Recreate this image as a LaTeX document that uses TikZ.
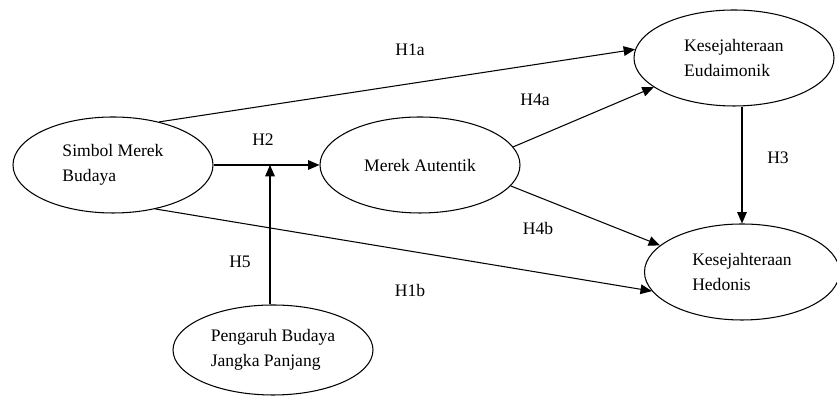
\documentclass[tikz,border=0pt]{standalone}
\usepackage{fontspec}
\setmainfont{Liberation Serif}
\usetikzlibrary{shapes.geometric,arrows.meta,calc}

\tikzset{
	konstruk/.style={draw,ellipse,line width=0.6pt,minimum width=4cm,minimum height=1.92cm,
		inner sep=0pt,align=left,font=\fontsize{10}{14}\selectfont},
	hlabel/.style={font=\fontsize{10}{12}\selectfont}
}

\begin{document}
\begin{tikzpicture}[>={Triangle[length=6.5pt,width=5.5pt]},line width=0.6pt]
		\useasboundingbox (0,0) rectangle (16.74,7.92);
		%\draw[blue] (0,0) grid (16,7);

		\node [konstruk] (simbol) at (2.26,4.62) {Simbol Merek\\Budaya};
		\node [konstruk] (merek) at (8.4,4.62) {Merek Autentik};
		\node [konstruk] (eud) at (14.68,6.76) {Kesejahteraan\\Eudaimonik};
		\node [konstruk,minimum width=3.9cm] (hed) at (14.84,2.48) {Kesejahteraan\\Hedonis};
		\node [konstruk,minimum height=1.8cm] (peng) at (5.46,0.92) {Pengaruh Budaya\\Jangka Panjang};

		\coordinate (h2pt) at (5.4,4.62);

		\draw [->] (simbol.43) -- (eud.175);
		\draw [->] (simbol.east) -- (merek.west);
		\draw [->] (peng.north -| h2pt) -- (h2pt);
		\draw [->] (merek.11) -- (eud.200);
		\draw [->] (merek.-13) -- (hed.162);
		\draw [->] (simbol.-46) -- (hed.192);
		\draw [->] (hed.north |- eud.south) -- (hed.north);

		\node [hlabel] at (8.2,6.92) {H1a};
		\node [hlabel] at (5.26,5.12) {H2};
		\node [hlabel] at (4.8,2.68) {H5};
		\node [hlabel] at (10.7,5.92) {H4a};
		\node [hlabel] at (10.76,3.36) {H4b};
		\node [hlabel] at (8.2,2.12) {H1b};
		\node [hlabel] at (15.56,4.76) {H3};

	\end{tikzpicture}
\end{document}
